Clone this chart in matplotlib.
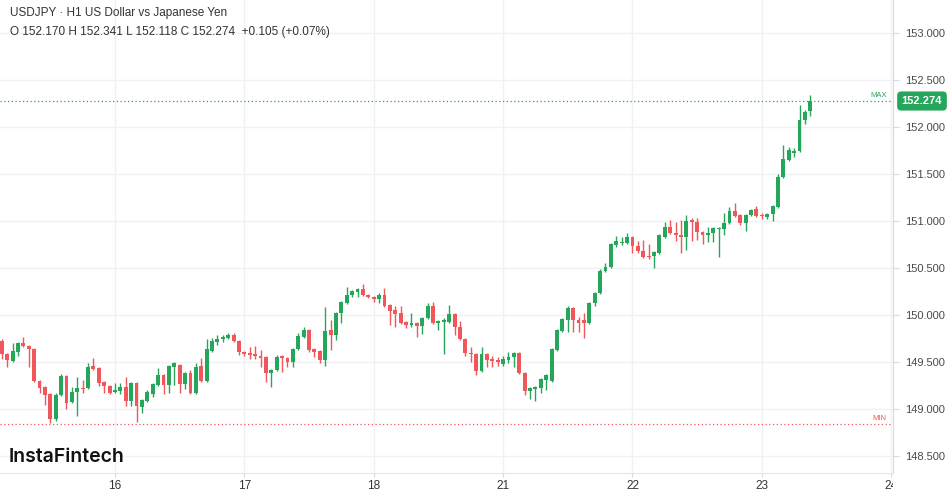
import matplotlib
matplotlib.use("Agg")
import matplotlib.pyplot as plt
from matplotlib.transforms import Bbox, TransformedBbox
import numpy as np

# USDJPY H1 candles (one per hour)
opens = [149.723, 149.585, 149.511, 149.606, 149.702, 149.670, 149.638, 149.298, 149.234, 149.160,
         148.894, 149.149, 149.351, 149.074, 149.181, 149.223, 149.223, 149.457, 149.436, 149.287,
         149.245, 149.181, 149.191, 149.234, 149.085, 149.277, 149.021, 149.085, 149.160, 149.255,
         149.362, 149.255, 149.447, 149.468, 149.266, 149.383, 149.170, 149.457, 149.298, 149.617,
         149.713, 149.745, 149.755, 149.787, 149.723, 149.606, 149.596, 149.585, 149.564, 149.553,
         149.383, 149.415, 149.564, 149.543, 149.500, 149.638, 149.766, 149.840, 149.638, 149.617,
         149.521, 149.840, 149.787, 150.021, 150.128, 150.213, 150.245, 150.277, 150.213, 150.191,
         150.170, 150.213, 150.106, 150.053, 150.021, 149.926, 149.894, 149.915, 149.883, 149.968,
         150.096, 149.915, 149.926, 149.926, 150.011, 149.872, 149.745, 149.596, 149.585, 149.404,
         149.585, 149.532, 149.521, 149.479, 149.521, 149.553, 149.596, 149.383, 149.191, 149.213,
         149.223, 149.309, 149.298, 149.628, 149.830, 149.947, 150.074, 149.947, 149.947, 149.915,
         150.128, 150.234, 150.468, 150.511, 150.745, 150.766, 150.766, 150.830, 150.734, 150.681,
         150.628, 150.628, 150.660, 150.830, 150.936, 150.872, 150.851, 150.830, 151.011, 150.989,
         150.883, 150.851, 150.872, 150.915, 150.915, 150.979, 151.106, 151.064, 150.979, 151.064,
         151.128, 151.064, 151.043, 151.074, 151.149, 151.468, 151.649, 151.723, 151.745, 152.074,
         152.170]
highs = [149.745, 149.596, 149.702, 149.713, 149.766, 149.681, 149.649, 149.309, 149.245, 149.170,
         149.170, 149.372, 149.362, 149.234, 149.340, 149.309, 149.489, 149.543, 149.447, 149.298,
         149.255, 149.277, 149.277, 149.340, 149.287, 149.287, 149.106, 149.202, 149.277, 149.436,
         149.372, 149.468, 149.500, 149.479, 149.394, 149.415, 149.489, 149.543, 149.745, 149.755,
         149.787, 149.787, 149.809, 149.809, 149.734, 149.617, 149.660, 149.670, 149.628, 149.564,
         149.426, 149.574, 149.574, 149.553, 149.649, 149.809, 149.872, 149.851, 149.649, 149.628,
         150.085, 149.947, 150.032, 150.149, 150.298, 150.266, 150.287, 150.330, 150.223, 150.202,
         150.234, 150.287, 150.117, 150.096, 150.096, 149.936, 150.021, 149.926, 149.979, 150.128,
         150.138, 149.947, 149.968, 150.106, 150.021, 149.936, 149.755, 149.660, 149.596, 149.660,
         149.596, 149.564, 149.553, 149.564, 149.606, 149.606, 149.606, 149.394, 149.234, 149.245,
         149.330, 149.372, 149.649, 149.851, 149.968, 150.096, 150.085, 149.979, 150.021, 150.138,
         150.245, 150.489, 150.553, 150.766, 150.840, 150.830, 150.872, 150.840, 150.787, 150.798,
         150.755, 150.681, 150.862, 150.989, 151.011, 150.989, 151.011, 151.064, 151.032, 151.032,
         150.894, 150.936, 150.936, 150.936, 151.085, 151.149, 151.191, 151.074, 151.074, 151.128,
         151.160, 151.085, 151.085, 151.170, 151.500, 151.809, 151.787, 151.777, 152.234, 152.181,
         152.341]
lows = [149.532, 149.447, 149.500, 149.564, 149.660, 149.447, 149.287, 149.170, 149.043, 148.851,
        148.872, 149.138, 149.000, 149.064, 148.926, 149.170, 149.213, 149.415, 149.245, 149.170,
        149.160, 149.170, 149.160, 149.032, 149.032, 148.862, 148.957, 149.074, 149.128, 149.245,
        149.160, 149.170, 149.255, 149.170, 149.213, 149.160, 149.160, 149.287, 149.287, 149.606,
        149.681, 149.713, 149.745, 149.713, 149.574, 149.564, 149.532, 149.532, 149.447, 149.287,
        149.234, 149.404, 149.394, 149.447, 149.447, 149.628, 149.755, 149.606, 149.553, 149.489,
        149.457, 149.628, 149.734, 149.915, 150.117, 150.191, 150.191, 150.202, 150.181, 150.138,
        150.128, 150.085, 149.894, 149.872, 149.904, 149.862, 149.872, 149.766, 149.798, 149.957,
        149.904, 149.840, 149.585, 149.915, 149.787, 149.734, 149.564, 149.500, 149.362, 149.394,
        149.447, 149.447, 149.457, 149.457, 149.489, 149.447, 149.372, 149.149, 149.106, 149.085,
        149.170, 149.202, 149.287, 149.617, 149.819, 149.819, 149.819, 149.819, 149.755, 149.904,
        150.096, 150.223, 150.457, 150.500, 150.723, 150.745, 150.755, 150.660, 150.660, 150.606,
        150.596, 150.500, 150.649, 150.819, 150.862, 150.787, 150.660, 150.691, 150.787, 150.798,
        150.755, 150.777, 150.777, 150.617, 150.851, 150.968, 151.043, 150.957, 150.894, 151.053,
        151.043, 151.021, 151.021, 151.000, 151.138, 151.457, 151.638, 151.681, 151.734, 152.032,
        152.118]
closes = [149.585, 149.521, 149.617, 149.702, 149.670, 149.638, 149.298, 149.223, 149.149, 148.894,
          149.149, 149.351, 149.064, 149.181, 149.223, 149.213, 149.447, 149.426, 149.277, 149.245,
          149.170, 149.202, 149.234, 149.085, 149.277, 149.032, 149.096, 149.181, 149.266, 149.362,
          149.255, 149.457, 149.489, 149.266, 149.383, 149.170, 149.447, 149.298, 149.638, 149.723,
          149.745, 149.766, 149.787, 149.723, 149.606, 149.585, 149.574, 149.564, 149.543, 149.383,
          149.415, 149.553, 149.543, 149.500, 149.638, 149.777, 149.840, 149.628, 149.606, 149.521,
          149.830, 149.787, 150.021, 150.138, 150.213, 150.255, 150.277, 150.213, 150.191, 150.170,
          150.213, 150.096, 150.043, 150.011, 149.915, 149.894, 149.915, 149.883, 149.968, 150.096,
          149.915, 149.936, 149.947, 150.011, 149.872, 149.745, 149.596, 149.585, 149.404, 149.585,
          149.521, 149.511, 149.500, 149.532, 149.553, 149.596, 149.383, 149.191, 149.223, 149.234,
          149.319, 149.362, 149.638, 149.840, 149.957, 150.074, 149.947, 149.915, 149.915, 150.128,
          150.234, 150.468, 150.511, 150.755, 150.787, 150.777, 150.830, 150.734, 150.681, 150.617,
          150.617, 150.670, 150.851, 150.936, 150.872, 150.851, 150.830, 151.000, 150.989, 150.883,
          150.851, 150.872, 150.926, 150.926, 150.979, 151.106, 151.053, 150.979, 151.064, 151.117,
          151.053, 151.053, 151.074, 151.160, 151.468, 151.660, 151.755, 151.745, 152.074, 152.160,
          152.274]

day_ticks = [21, 45, 69, 93, 117, 141, 165]
day_labels = ["16", "17", "18", "21", "22", "23", "24"]
price_ticks = [148.5, 149.0, 149.5, 150.0, 150.5, 151.0, 151.5, 152.0, 152.5, 153.0]
max_level = 152.274
min_level = 148.845

up_col = "#26a65b"
down_col = "#f0565a"
grid_col = "#f0f1f4"

plt.rcParams['font.family'] = ['Liberation Sans', 'DejaVu Sans']

fig = plt.figure(figsize=(9.49, 4.94), dpi=100)
ax = fig.add_axes([0, 21 / 494, 893 / 949, 473 / 494])

o = np.array(opens)
h = np.array(highs)
l = np.array(lows)
c = np.array(closes)
idx = np.arange(len(o))
cols = [up_col if cc >= oo else down_col for oo, cc in zip(o, c)]

ax.vlines(idx, l, h, colors=cols, linewidth=1, zorder=3)
body_low = np.minimum(o, c)
body_h = np.maximum(np.abs(c - o), 0.012)
ax.bar(idx, body_h, bottom=body_low, width=0.72, color=cols, linewidth=0, zorder=4)

ax.set_xlim(-0.334, 165.34)
ax.set_ylim(148.319, 153.351)

ax.set_yticks(price_ticks)
ax.set_yticklabels(["%.3f" % p for p in price_ticks])
ax.yaxis.tick_right()
ax.set_xticks(day_ticks)
ax.set_xticklabels(day_labels)
ax.tick_params(axis='y', length=4, color="#d6d9e0", labelsize=8, labelcolor="#4a4a4a", pad=5)
ax.tick_params(axis='x', length=3, color="#d6d9e0", labelsize=8.5, labelcolor="#333333", pad=2)
ax.grid(True, color=grid_col, linewidth=1, zorder=0)
ax.set_axisbelow(True)

for s in ["top", "left"]:
    ax.spines[s].set_visible(False)
ax.spines["right"].set_color("#d6d9e0")
ax.spines["bottom"].set_color("#e3e6ec")

# last day label is cut by the price scale
clip = TransformedBbox(Bbox([[0, 0], [893 / 949, 1]]), fig.transFigure)
lab = ax.get_xticklabels()[-1]
lab.set_clip_on(True)
lab.set_clip_box(clip)

# max / min lines
ax.axhline(max_level, color=up_col, linestyle=(0, (1, 2)), linewidth=0.9, zorder=2)
ax.axhline(min_level, color=down_col, linestyle=(0, (1, 2)), linewidth=0.9, zorder=2)
ax.text(164.2, max_level + 0.02, "MAX", color=up_col, fontsize=5.5, ha='right', va='bottom')
ax.text(164.2, min_level + 0.02, "MIN", color=down_col, fontsize=5.5, ha='right', va='bottom')

# current price tag
fig.text(922 / 949, 1 - 101 / 494, "%.3f" % closes[-1], color="white", fontsize=8,
         fontweight='bold', ha='center', va='center',
         bbox=dict(boxstyle="round,pad=0.35,rounding_size=0.3", fc=up_col, ec=up_col))

fig.text(10 / 949, 1 - 13 / 494, "USDJPY · H1 US Dollar vs Japanese Yen",
         fontsize=8.5, color="#333333", va='center', ha='left')
fig.text(10 / 949, 1 - 32 / 494, "O 152.170 H 152.341 L 152.118 C 152.274  +0.105 (+0.07%)",
         fontsize=8.5, color="#333333", va='center', ha='left')
fig.text(9 / 949, 1 - 457 / 494, "InstaFintech", fontsize=14, fontweight='semibold',
         family=['Inter', 'DejaVu Sans'], color="#111111", va='center', ha='left')

fig.savefig("out.png", dpi=100)
